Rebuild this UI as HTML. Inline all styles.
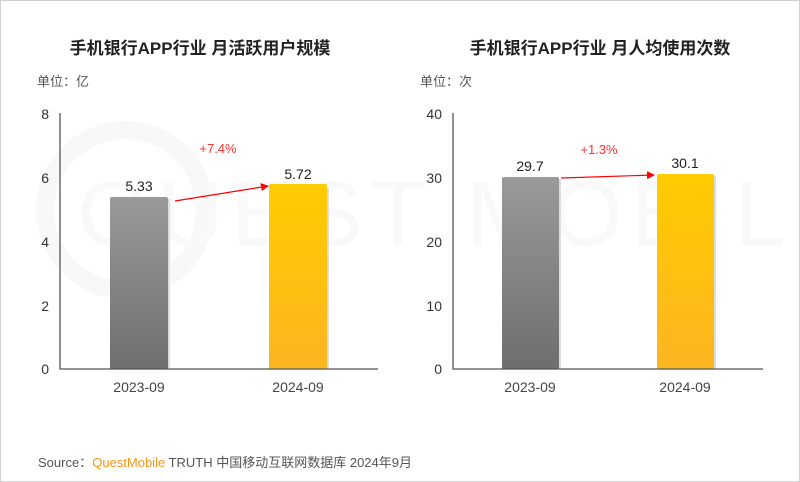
<!DOCTYPE html>
<html><head><meta charset="utf-8"><style>
body{margin:0;background:#fff}
svg{display:block;font-family:"Liberation Sans","Noto Sans CJK SC",sans-serif}
</style></head><body>
<svg width="800" height="482" viewBox="0 0 800 482">
<defs>
<linearGradient id="g" x1="0" y1="0" x2="0" y2="1"><stop offset="0" stop-color="#9a9a9a"/><stop offset="1" stop-color="#6e6e6e"/></linearGradient>
<linearGradient id="y" x1="0" y1="0" x2="0" y2="1"><stop offset="0" stop-color="#ffcc00"/><stop offset="1" stop-color="#fcb521"/></linearGradient>
<marker id="a" markerWidth="8" markerHeight="8" refX="7" refY="4" orient="auto" markerUnits="userSpaceOnUse"><path d="M0,0 L8,4 L0,8z" fill="#f00"/></marker>
</defs>
<rect x="0.5" y="0.5" width="799" height="481" fill="#fff" stroke="#d0d0d0"/>
<circle cx="125" cy="210" r="80" fill="none" stroke="#f8f8f8" stroke-width="18"/>
<text x="470" y="245" font-size="92" fill="#f9f9f9" text-anchor="middle" letter-spacing="8">QUEST MOBILE</text>
<g font-size="17" font-weight="bold" fill="#222" text-anchor="middle">
<text x="200" y="54">手机银行APP行业 月活跃用户规模</text>
<text x="600" y="54">手机银行APP行业 月人均使用次数</text>
</g>
<g font-size="13" fill="#555"><text x="37" y="86">单位：亿</text><text x="420" y="86">单位：次</text></g>
<g font-size="14" fill="#333" text-anchor="end">
<text x="49" y="119">8</text><text x="49" y="183">6</text><text x="49" y="247">4</text><text x="49" y="311">2</text><text x="49" y="374">0</text>
<text x="442" y="119">40</text><text x="442" y="183">30</text><text x="442" y="247">20</text><text x="442" y="311">10</text><text x="442" y="374">0</text>
</g>
<rect x="112" y="199" width="58" height="170" fill="#ddd"/>
<rect x="110" y="197" width="58" height="172" fill="url(#g)" rx="2"/>
<rect x="271" y="188" width="58" height="181" fill="#ddd"/>
<rect x="269" y="184" width="58" height="185" fill="url(#y)" rx="2"/>
<rect x="504" y="179" width="57" height="190" fill="#ddd"/>
<rect x="502" y="177" width="57" height="192" fill="url(#g)" rx="2"/>
<rect x="659" y="176" width="57" height="193" fill="#ddd"/>
<rect x="657" y="174" width="57" height="195" fill="url(#y)" rx="2"/>
<g stroke="#555" stroke-width="1.3" fill="none">
<path d="M60,113V369H378"/><path d="M453,113V369H763"/>
</g>
<g font-size="14" fill="#222" text-anchor="middle">
<text x="139" y="191">5.33</text><text x="298" y="179">5.72</text>
<text x="530" y="171">29.7</text><text x="685" y="168">30.1</text>
</g>
<g font-size="14" fill="#444" text-anchor="middle">
<text x="139" y="392">2023-09</text><text x="298" y="392">2024-09</text>
<text x="530" y="392">2023-09</text><text x="685" y="392">2024-09</text>
</g>
<line x1="175" y1="201" x2="268" y2="186" stroke="#f00" stroke-width="1.2" marker-end="url(#a)"/>
<line x1="561" y1="178" x2="654" y2="175" stroke="#f00" stroke-width="1.2" marker-end="url(#a)"/>
<g font-size="13" fill="#f33" text-anchor="middle"><text x="218" y="153">+7.4%</text><text x="599" y="154">+1.3%</text></g>
<text x="38" y="467" font-size="13" fill="#555">Source：<tspan fill="#f7941d">QuestMobile</tspan> TRUTH 中国移动互联网数据库 2024年9月</text>
</svg>
</body></html>
